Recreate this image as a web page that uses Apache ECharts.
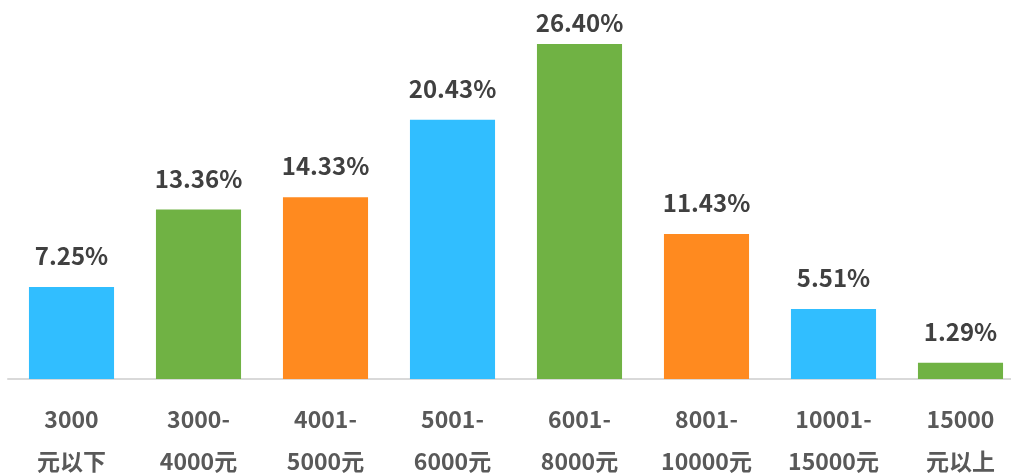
<!DOCTYPE html>
<html><head><meta charset="utf-8">
<script src="https://cdn.jsdelivr.net/npm/echarts@6/dist/echarts.min.js"></script>
<style>html,body{margin:0;padding:0;background:#fff}#c{width:1011px;height:473px}</style>
</head><body><div id="c"></div>
<script>
const categories = ['3000\n元以下','3000-\n4000元','4001-\n5000元','5001-\n6000元','6001-\n8000元','8001-\n10000元','10001-\n15000元','15000\n元以上'];
const values = [7.25, 13.36, 14.33, 20.43, 26.40, 11.43, 5.51, 1.29];
const colors = ['#31BEFF','#70B244','#FF8A1F','#31BEFF','#70B244','#FF8A1F','#31BEFF','#70B244'];
const font = '"Noto Sans CJK SC", "Open Sans", sans-serif';
const maxV = Math.max(...values);
const chart = echarts.init(document.getElementById('c'));
chart.setOption({
  animation: false,
  grid: {left: 8, width: 1016, top: 44, bottom: 94, containLabel: false, outerBoundsMode: 'none'},
  xAxis: {
    type: 'category', data: categories,
    axisLine: {lineStyle: {color: '#d9d9d9', width: 2}},
    axisTick: {show: false},
    axisLabel: {color: '#595959', fontSize: 23, fontWeight: 'bold', fontFamily: font, lineHeight: 42, margin: 19, interval: 0}
  },
  yAxis: {type: 'value', min: 0, max: maxV, show: false, splitLine: {show: false}},
  series: [{
    type: 'bar', barWidth: '67%',
    data: values.map((v, i) => ({value: v, itemStyle: {color: colors[i]},
      label: {distance: v === maxV ? 9 : 19}})),
    label: {show: true, position: 'top', color: '#404040', fontSize: 24, fontWeight: 'bold', fontFamily: font,
      formatter: p => p.value.toFixed(2) + '%'}
  }]
});
</script></body></html>
